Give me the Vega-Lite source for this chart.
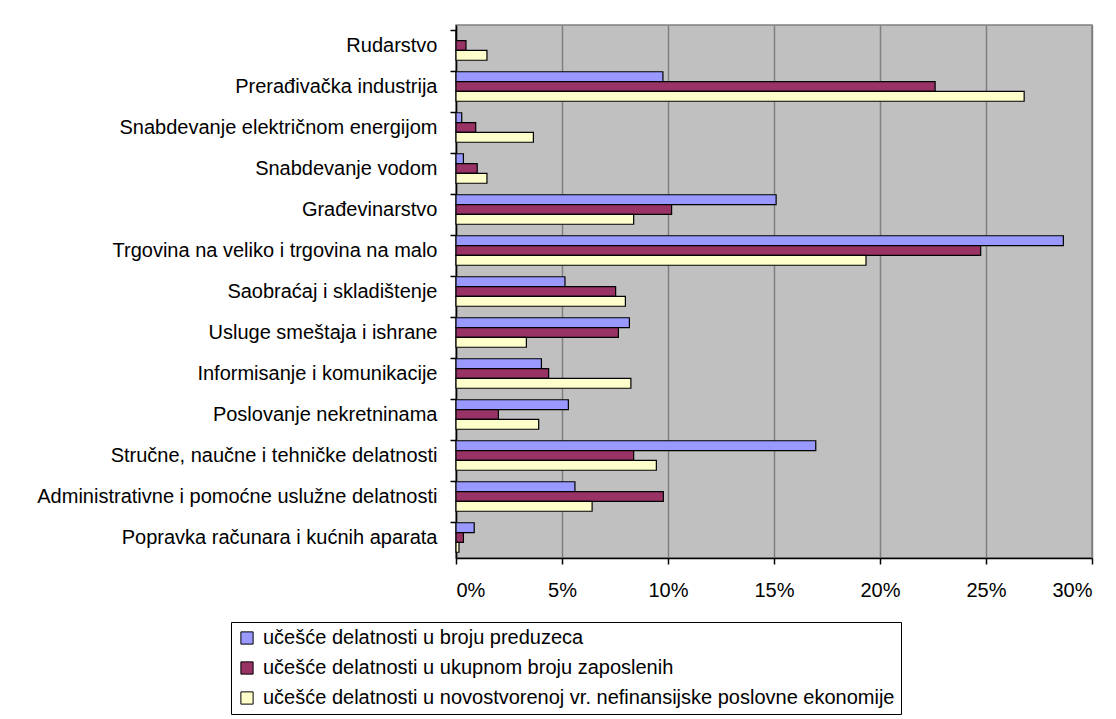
{
  "$schema": "https://vega.github.io/schema/vega-lite/v6.json",
  "width": 636,
  "height": 533,
  "autosize": {"type": "none"},
  "padding": {"left": 456, "top": 25, "right": 24, "bottom": 161},
  "background": "white",
  "config": {
    "font": "Liberation Sans",
    "view": {"fill": "#C0C0C0", "stroke": "#808080", "strokeWidth": 1.5}
  },
  "datasets": {
    "d": [
      {"cat": "Rudarstvo", "s": "učešće delatnosti u broju preduzeca", "v": 0.0},
      {"cat": "Rudarstvo", "s": "učešće delatnosti u ukupnom broju zaposlenih", "v": 0.0047},
      {"cat": "Rudarstvo", "s": "učešće delatnosti u novostvorenoj vr. nefinansijske poslovne ekonomije", "v": 0.0146},
      {"cat": "Prerađivačka industrija", "s": "učešće delatnosti u broju preduzeca", "v": 0.0976},
      {"cat": "Prerađivačka industrija", "s": "učešće delatnosti u ukupnom broju zaposlenih", "v": 0.226},
      {"cat": "Prerađivačka industrija", "s": "učešće delatnosti u novostvorenoj vr. nefinansijske poslovne ekonomije", "v": 0.268},
      {"cat": "Snabdevanje električnom energijom", "s": "učešće delatnosti u broju preduzeca", "v": 0.0027},
      {"cat": "Snabdevanje električnom energijom", "s": "učešće delatnosti u ukupnom broju zaposlenih", "v": 0.0093},
      {"cat": "Snabdevanje električnom energijom", "s": "učešće delatnosti u novostvorenoj vr. nefinansijske poslovne ekonomije", "v": 0.0365},
      {"cat": "Snabdevanje vodom", "s": "učešće delatnosti u broju preduzeca", "v": 0.0035},
      {"cat": "Snabdevanje vodom", "s": "učešće delatnosti u ukupnom broju zaposlenih", "v": 0.010},
      {"cat": "Snabdevanje vodom", "s": "učešće delatnosti u novostvorenoj vr. nefinansijske poslovne ekonomije", "v": 0.0146},
      {"cat": "Građevinarstvo", "s": "učešće delatnosti u broju preduzeca", "v": 0.151},
      {"cat": "Građevinarstvo", "s": "učešće delatnosti u ukupnom broju zaposlenih", "v": 0.1017},
      {"cat": "Građevinarstvo", "s": "učešće delatnosti u novostvorenoj vr. nefinansijske poslovne ekonomije", "v": 0.0838},
      {"cat": "Trgovina na veliko i trgovina na malo", "s": "učešće delatnosti u broju preduzeca", "v": 0.2865},
      {"cat": "Trgovina na veliko i trgovina na malo", "s": "učešće delatnosti u ukupnom broju zaposlenih", "v": 0.2475},
      {"cat": "Trgovina na veliko i trgovina na malo", "s": "učešće delatnosti u novostvorenoj vr. nefinansijske poslovne ekonomije", "v": 0.1934},
      {"cat": "Saobraćaj i skladištenje", "s": "učešće delatnosti u broju preduzeca", "v": 0.0514},
      {"cat": "Saobraćaj i skladištenje", "s": "učešće delatnosti u ukupnom broju zaposlenih", "v": 0.0753},
      {"cat": "Saobraćaj i skladištenje", "s": "učešće delatnosti u novostvorenoj vr. nefinansijske poslovne ekonomije", "v": 0.0799},
      {"cat": "Usluge smeštaja i ishrane", "s": "učešće delatnosti u broju preduzeca", "v": 0.0818},
      {"cat": "Usluge smeštaja i ishrane", "s": "učešće delatnosti u ukupnom broju zaposlenih", "v": 0.0766},
      {"cat": "Usluge smeštaja i ishrane", "s": "učešće delatnosti u novostvorenoj vr. nefinansijske poslovne ekonomije", "v": 0.0332},
      {"cat": "Informisanje i komunikacije", "s": "učešće delatnosti u broju preduzeca", "v": 0.0403},
      {"cat": "Informisanje i komunikacije", "s": "učešće delatnosti u ukupnom broju zaposlenih", "v": 0.0437},
      {"cat": "Informisanje i komunikacije", "s": "učešće delatnosti u novostvorenoj vr. nefinansijske poslovne ekonomije", "v": 0.0825},
      {"cat": "Poslovanje nekretninama", "s": "učešće delatnosti u broju preduzeca", "v": 0.053},
      {"cat": "Poslovanje nekretninama", "s": "učešće delatnosti u ukupnom broju zaposlenih", "v": 0.020},
      {"cat": "Poslovanje nekretninama", "s": "učešće delatnosti u novostvorenoj vr. nefinansijske poslovne ekonomije", "v": 0.039},
      {"cat": "Stručne, naučne i tehničke delatnosti", "s": "učešće delatnosti u broju preduzeca", "v": 0.1697},
      {"cat": "Stručne, naučne i tehničke delatnosti", "s": "učešće delatnosti u ukupnom broju zaposlenih", "v": 0.0838},
      {"cat": "Stručne, naučne i tehničke delatnosti", "s": "učešće delatnosti u novostvorenoj vr. nefinansijske poslovne ekonomije", "v": 0.0945},
      {"cat": "Administrativne i pomoćne uslužne  delatnosti", "s": "učešće delatnosti u broju preduzeca", "v": 0.0561},
      {"cat": "Administrativne i pomoćne uslužne  delatnosti", "s": "učešće delatnosti u ukupnom broju zaposlenih", "v": 0.0978},
      {"cat": "Administrativne i pomoćne uslužne  delatnosti", "s": "učešće delatnosti u novostvorenoj vr. nefinansijske poslovne ekonomije", "v": 0.0642},
      {"cat": "Popravka računara i kućnih aparata", "s": "učešće delatnosti u broju preduzeca", "v": 0.0086},
      {"cat": "Popravka računara i kućnih aparata", "s": "učešće delatnosti u ukupnom broju zaposlenih", "v": 0.0035},
      {"cat": "Popravka računara i kućnih aparata", "s": "učešće delatnosti u novostvorenoj vr. nefinansijske poslovne ekonomije", "v": 0.0014}
    ]
  },
  "data": {"name": "d"},
  "mark": {"type": "bar", "stroke": "black", "strokeWidth": 1.2},
  "encoding": {
    "y": {
      "field": "cat", "type": "nominal", "sort": null,
      "scale": {"paddingInner": 0.28, "paddingOuter": 0.14},
      "axis": {
        "title": null, "labelFontSize": 20, "labelColor": "black", "labelLimit": 460,
        "labelPadding": 13, "bandPosition": 0, "tickColor": "black", "tickSize": 6,
        "domainColor": "black", "domainWidth": 1.5, "tickWidth": 1.5, "labelOffset": 0
      }
    },
    "yOffset": {
      "field": "s", "type": "nominal", "sort": null
    },
    "x": {
      "field": "v", "type": "quantitative",
      "scale": {"domain": [0, 0.3], "nice": false},
      "axis": {
        "title": null, "format": ".0%", "values": [0, 0.05, 0.1, 0.15, 0.2, 0.25, 0.3],
        "labelFontSize": 20, "labelColor": "black", "labelPadding": 16,
        "tickColor": "black", "tickSize": 6, "tickWidth": 1.5,
        "domainColor": "black", "domainWidth": 1.5,
        "grid": true, "gridColor": "#808080", "gridWidth": 1.5
      }
    },
    "color": {
      "field": "s", "type": "nominal", "sort": null,
      "scale": {"range": ["#9999FF", "#993366", "#FFFFCC"]},
      "legend": {
        "title": null, "orient": "none", "legendX": -225, "legendY": 597,
        "direction": "vertical",
        "labelFontSize": 20, "labelColor": "black", "labelLimit": 800,
        "symbolType": "square", "symbolSize": 150, "symbolStrokeColor": "black",
        "symbolStrokeWidth": 1, "rowPadding": 10, "padding": 6,
        "strokeColor": "black", "fillColor": "white", "labelOffset": 6
      }
    }
  }
}
